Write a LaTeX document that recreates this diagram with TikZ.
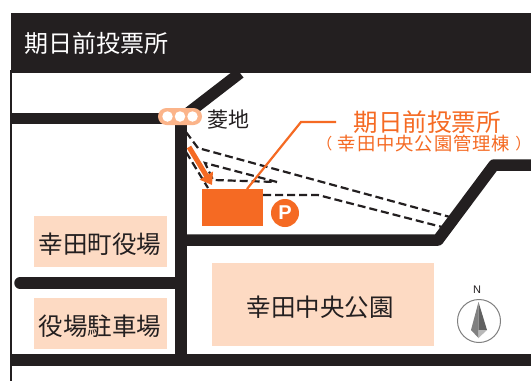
\documentclass[tikz,border=0pt]{standalone}
\usepackage{fontspec}
\setmainfont{Noto Sans CJK JP}
\setsansfont{Liberation Sans}
\usetikzlibrary{arrows.meta}
\definecolor{roadk}{HTML}{231F20}
\definecolor{acc}{HTML}{F56A23}
\definecolor{peach}{HTML}{FDDAC3}
\definecolor{pill}{HTML}{FBB48A}
\tikzset{
 road/.style={draw=roadk,line width=11.5pt,line join=round},
 walk/.style={draw=roadk,line width=2.2pt,dash pattern=on 8pt off 4pt},
 place/.style={fill=peach,inner sep=0pt,minimum width=133pt,minimum height=51pt},
 placetext/.style={inner sep=0pt,text=roadk,font=\fontsize{24.5}{26}\selectfont},
 sublabel/.style={text=acc,inner sep=0,font=\fontsize{18.3}{20}\selectfont},
 lamp/.style={circle,fill=white,minimum size=10.5pt,inner sep=0pt},
}
\begin{document}
\begin{tikzpicture}[x=1pt,y=-1pt]
\useasboundingbox (0,0) rectangle (531,381);
\fill[white] (0,0) rectangle (531,381);
% frame and title
\draw[roadk,line width=1.2pt] (11,70) -- (11,381);
\node[fill=roadk,minimum width=520pt,minimum height=60pt,inner sep=0pt,anchor=north west] (header) at (11,13) {};
\node[text=white,anchor=west,inner sep=0,font=\fontsize{24}{26}\selectfont] (title) at (24,43.5) {期日前投票所};
% places
\node[place] (town) at (100.5,241.5) {};
\node[placetext] (townt) at (100,244.5) {幸田町役場};
\node[place] (townp) at (100.5,323.5) {};
\node[placetext] (townpt) at (100,326.5) {役場駐車場};
\node[place,minimum width=222pt,minimum height=83pt] (park) at (323,304.5) {};
\node[placetext] (parkt) at (320,307) {幸田中央公園};
% roads
\draw[road] (11,118.5) -- (181,118.5) -- (181,360);
\draw[road] (181,118.5) -- (240,73);
\draw[road] (11,360) -- (531,360);
\draw[road] (181,240) -- (438,240) -- (494,165) -- (531,165);
\draw[road,line cap=round] (20,283) -- (181,283);
% walking routes
\draw[walk] (186,132) -- (198,148) -- (450,217);
\draw[walk] (186,152) -- (208,188);
\draw[walk] (263,195) -- (318,195) -- (442,227);
\draw[walk] (277,182) -- (205,163) -- (213,180) -- (277,182);
% signal
\node[fill=pill,rounded corners=8.5pt,minimum width=44pt,minimum height=17pt,inner sep=0pt] (signal) at (180,116.5) {};
\node[lamp] (siga) at (167.5,116.5) {};
\node[lamp] (sigb) at (180,116.5) {};
\node[lamp] (sigc) at (192.5,116.5) {};
\node[anchor=west,inner sep=0,text=roadk,font=\fontsize{21}{23}\selectfont] (hishi) at (207,120) {菱地};
% station
\node[fill=acc,minimum width=61pt,minimum height=37pt,inner sep=0pt,anchor=north west] (site) at (202,189) {};
\coordinate (arrstart) at (189,147);
\coordinate (arrend) at (212,185);
\draw[acc,line width=5pt,-{Triangle[length=11pt,width=15pt]}] (arrstart) -- (arrend);
\coordinate (bend) at (301,122);
\coordinate (lead) at (336,122);
\draw[acc,line width=2.2pt] (247,189) -- (bend) -- (lead);
\node[circle,fill=acc,text=white,minimum size=28pt,inner sep=0pt,font=\sffamily\bfseries\fontsize{20}{21}\selectfont] (parking) at (285,213) {P};
\node[text=acc,inner sep=0,font=\fontsize{24.5}{26}\selectfont] (lab1) at (427,122) {期日前投票所};
\node[sublabel] (lab2) at (424,144) {\addfontfeature{LetterSpace=5}幸田中央公園管理棟};
\node[sublabel,font=\fontsize{15.5}{17}\selectfont] (lab2l) at (324.7,144) {（};
\node[sublabel,font=\fontsize{15.5}{17}\selectfont,anchor=west] (lab2r) at (515.2,144) {）};
% compass
\node[circle,draw=black!50,line width=1pt,fill=white,minimum size=43pt,inner sep=0pt] (comp) at (479,321) {};
\fill[black!50] (478.5,302) -- (471,330) -- (478.5,338) -- cycle;
\fill[black!62] (478.5,302) -- (487,330) -- (478.5,330) -- cycle;
\fill[black!28] (478.5,330) -- (487,330) -- (478.5,338) -- cycle;
\node[inner sep=0,text=roadk,font=\sffamily\fontsize{11}{12}\selectfont] (north) at (477,290) {N};
\end{tikzpicture}
\end{document}
